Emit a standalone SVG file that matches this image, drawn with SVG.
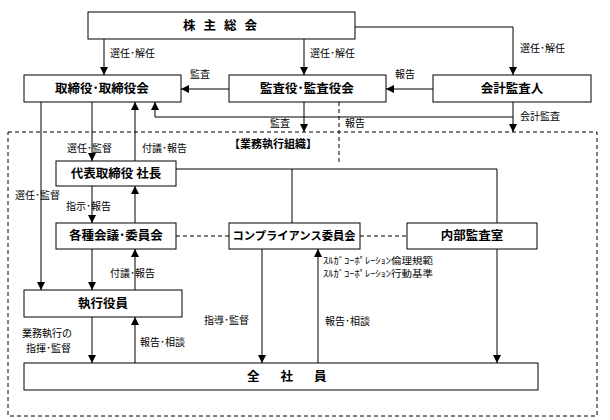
<svg xmlns="http://www.w3.org/2000/svg" width="610" height="420" viewBox="0 0 610 420">
<style>
.box{fill:#fff;stroke:#000;stroke-width:1}
.ln{fill:none;stroke:#000;stroke-width:1}
.arr{marker-end:url(#ah)}
.dash{fill:none;stroke:#000;stroke-width:1;stroke-dasharray:4,3}
.bt{font-family:"Noto Sans CJK JP","Noto Sans",sans-serif;font-size:12.5px;font-weight:bold;text-anchor:middle;fill:#000}
.lb{font-family:"Noto Sans CJK JP","Noto Sans",sans-serif;font-size:10px;fill:#000}
.sm{font-family:"Noto Sans CJK JP","Noto Sans",sans-serif;font-size:9px;fill:#000}
</style>
<defs>
<marker id="ah" markerUnits="userSpaceOnUse" markerWidth="8" markerHeight="8" refX="8" refY="4" orient="auto" viewBox="0 0 8 8">
<path d="M0,0 L8,4 L0,8 z" fill="#000"/>
</marker>
</defs>
<rect class="dash" x="8" y="132" width="589" height="284"/>
<g id="connectors">
<path class="ln arr" d="M104,39 V75"/>
<path class="ln arr" d="M304,39 V75"/>
<path class="ln arr" d="M355,27 H513 V75"/>
<path class="ln arr" d="M229,89 H181"/>
<path class="ln arr" d="M433,89 H386"/>
<path class="ln arr" d="M513,102 V132"/>
<path class="ln arr" d="M513,117 H155 V102"/>
<path class="ln arr" d="M304,102 V132"/>
<path class="dash" d="M339,102 V165"/>
<path class="ln arr" d="M41,102 V290"/>
<path class="ln arr" d="M92,102 V161"/>
<path class="ln arr" d="M135,161 V102"/>
<path class="ln arr" d="M92,186 V223"/>
<path class="ln arr" d="M135,223 V186"/>
<path class="ln" d="M176,169 H497 V223 M292,169 V223"/>
<path class="dash" d="M176,236 H229 M360,236 H407"/>
<path class="ln arr" d="M92,249 V290"/>
<path class="ln arr" d="M135,290 V249"/>
<path class="ln arr" d="M92,317 V363"/>
<path class="ln arr" d="M135,363 V317"/>
<path class="ln arr" d="M262,249 V363"/>
<path class="ln arr" d="M318,363 V249"/>
<path class="ln arr" d="M497,249 V363"/>
</g>
<g id="labels">
<text class="lb" x="110" y="57">選任･解任</text>
<text class="lb" x="310" y="57">選任･解任</text>
<text class="lb" x="520" y="52">選任･解任</text>
<text class="lb" x="190" y="78">監査</text>
<text class="lb" x="395" y="78">報告</text>
<text class="lb" x="520" y="120">会計監査</text>
<text class="lb" x="345" y="127">報告</text>
<text class="lb" x="270" y="127">監査</text>
<text x="229" y="148" style="font-family:'Noto Sans CJK JP',sans-serif;font-size:11px;font-weight:bold">【業務執行組織】</text>
<text class="lb" x="67" y="152">選任･監督</text>
<text class="lb" x="142" y="152">付議･報告</text>
<text class="lb" x="15" y="199">選任･監督</text>
<text class="lb" x="66" y="210">指示･報告</text>
<text class="lb" x="110" y="277">付議･報告</text>
<text class="sm" x="323" y="264" textLength="110" lengthAdjust="spacingAndGlyphs">ｽﾙｶﾞｺｰﾎﾟﾚｰｼｮﾝ倫理規範</text>
<text class="sm" x="323" y="277" textLength="110" lengthAdjust="spacingAndGlyphs">ｽﾙｶﾞｺｰﾎﾟﾚｰｼｮﾝ行動基準</text>
<text class="lb" x="22" y="337">業務執行の</text>
<text class="lb" x="26" y="352">指揮･監督</text>
<text class="lb" x="140" y="346">報告･相談</text>
<text class="lb" x="204" y="324">指導･監督</text>
<text class="lb" x="325" y="325">報告･相談</text>
</g>
<g id="n-kabunushi"><rect class="box" x="88" y="12" width="267" height="27"/><text class="bt" x="183" y="30" style="text-anchor:start;letter-spacing:8px">株主総会</text></g>
<g id="n-torishimari"><rect class="box" x="24" y="75" width="157" height="27"/><text class="bt" x="102" y="93">取締役･取締役会</text></g>
<g id="n-kansayaku"><rect class="box" x="229" y="75" width="157" height="27"/><text class="bt" x="307" y="93">監査役･監査役会</text></g>
<g id="n-kaikei"><rect class="box" x="433" y="75" width="158" height="27"/><text class="bt" x="512" y="93">会計監査人</text></g>
<g id="n-daihyo"><rect class="box" x="56" y="161" width="120" height="25"/><text class="bt" x="116" y="178">代表取締役 社長</text></g>
<g id="n-kaigi"><rect class="box" x="56" y="223" width="120" height="26"/><text class="bt" x="116" y="240">各種会議･委員会</text></g>
<g id="n-compliance"><rect class="box" x="229" y="223" width="131" height="26"/><text class="bt" x="294" y="240" style="font-size:11.3px">コンプライアンス委員会</text></g>
<g id="n-naibu"><rect class="box" x="407" y="223" width="130" height="26"/><text class="bt" x="472" y="240">内部監査室</text></g>
<g id="n-shikko"><rect class="box" x="24" y="290" width="158" height="27"/><text class="bt" x="103" y="308">執行役員</text></g>
<g id="n-zenshain"><rect class="box" x="24" y="363" width="514" height="27"/><text class="bt" x="247" y="381" style="text-anchor:start;letter-spacing:21px">全社員</text></g>
</svg>
